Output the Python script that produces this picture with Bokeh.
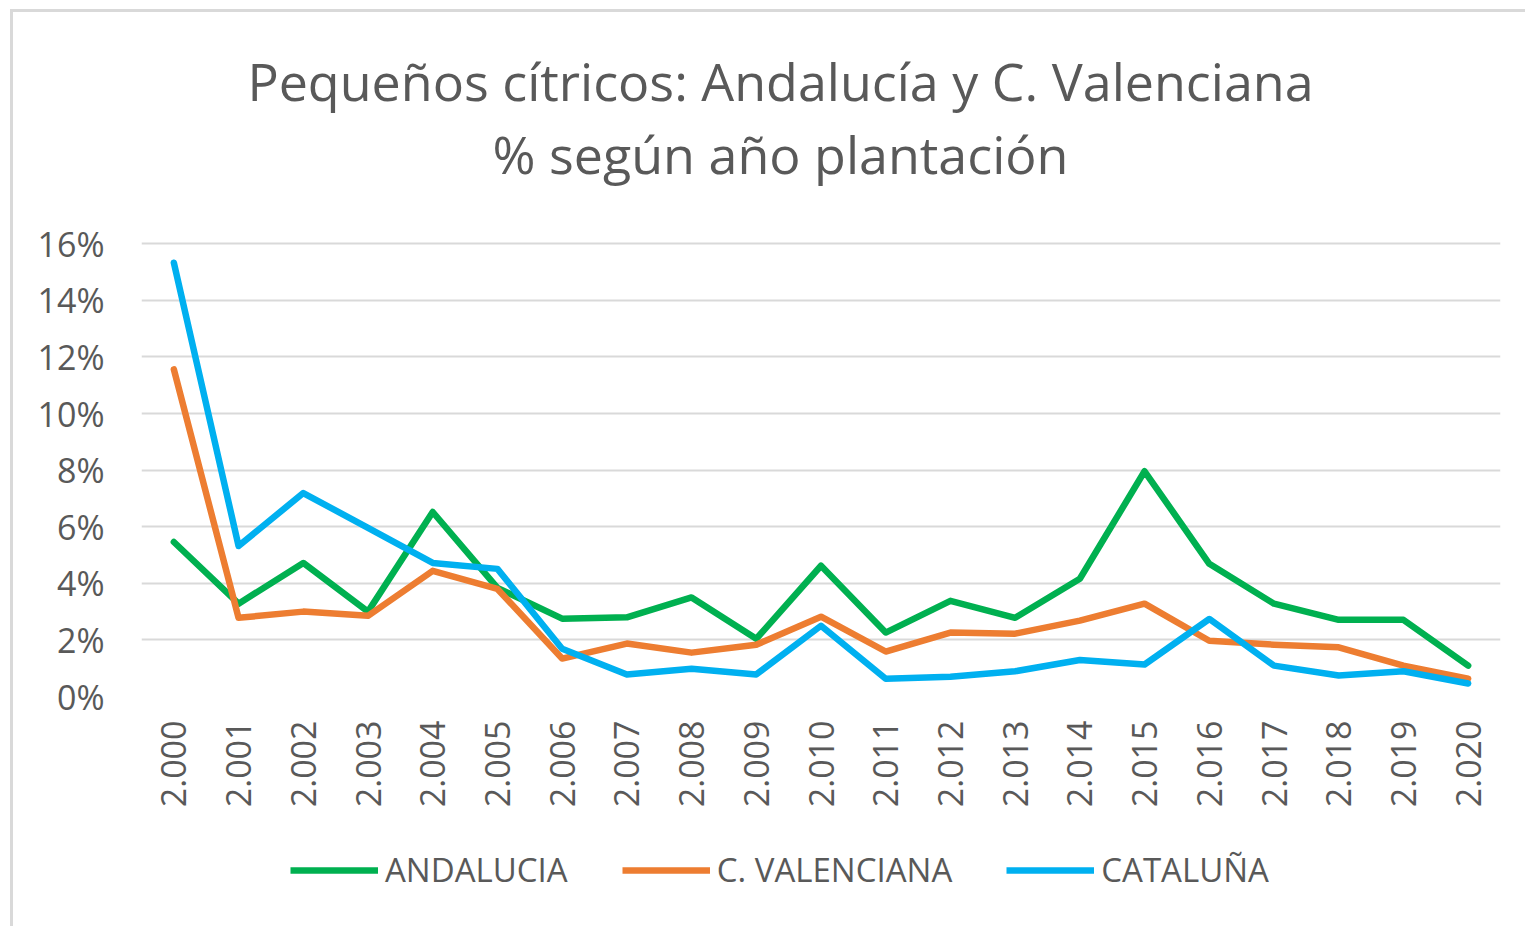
from bokeh.plotting import figure
from bokeh.layouts import column
from bokeh.models import (FactorRange, Range1d, FixedTicker, PrintfTickFormatter,
                          Legend, LegendItem, Title)
from bokeh.embed import file_html
from bokeh.resources import INLINE

years = ["2.000", "2.001", "2.002", "2.003", "2.004", "2.005", "2.006", "2.007",
         "2.008", "2.009", "2.010", "2.011", "2.012", "2.013", "2.014", "2.015",
         "2.016", "2.017", "2.018", "2.019", "2.020"]
andalucia = [5.46, 3.28, 4.72, 3.0, 6.52, 3.84, 2.75, 2.8, 3.5, 2.04, 4.62,
             2.26, 3.38, 2.78, 4.16, 7.96, 4.69, 3.28, 2.71, 2.71, 1.09]
valenciana = [11.56, 2.78, 3.0, 2.85, 4.44, 3.8, 1.34, 1.87, 1.55, 1.83, 2.82,
              1.59, 2.26, 2.22, 2.68, 3.28, 1.97, 1.83, 1.74, 1.09, 0.63]
cataluna = [15.33, 5.32, 7.19, 5.96, 4.72, 4.51, 1.69, 0.78, 0.98, 0.78, 2.5,
            0.63, 0.7, 0.89, 1.29, 1.13, 2.74, 1.09, 0.74, 0.89, 0.46]
y_ticks = [0, 2, 4, 6, 8, 10, 12, 14, 16]
title_lines = ["Pequeños cítricos: Andalucía y C. Valenciana", "% según año plantación"]
series_names = ["ANDALUCIA", "C. VALENCIANA", "CATALUÑA"]
colors = ["#00B050", "#ED7D31", "#00B0F0"]

FONT = "Open Sans"
GREY = "#595959"
NB = "\u00a0"

p = figure(width=1512, height=808, x_range=FactorRange(*years), y_range=Range1d(0, 16.08),
           output_backend="svg", toolbar_location=None,
           min_border_left=128, min_border_right=25, min_border_top=229, min_border_bottom=124)
p.outline_line_color = None
p.background_fill_color = "white"
p.border_fill_color = "white"

p.xgrid.grid_line_color = None
p.ygrid.grid_line_color = "#d9d9d9"
p.ygrid.grid_line_width = 2

p.yaxis.ticker = FixedTicker(ticks=y_ticks)
p.yaxis.formatter = PrintfTickFormatter(format="%d%%")
for ax in (p.xaxis[0], p.yaxis[0]):
    ax.axis_line_color = None
    ax.major_tick_line_color = None
    ax.minor_tick_line_color = None
    ax.major_label_text_font = FONT
    ax.major_label_text_font_size = "34px"
    ax.major_label_text_color = GREY
p.yaxis.major_label_standoff = 31
p.xaxis.major_label_orientation = 3.14159265 / 2
p.xaxis.major_label_standoff = 18
p.x_range.range_padding = 0
p.x_range.group_padding = 0

series = [andalucia, valenciana, cataluna]
for vals, c in zip(series, colors):
    p.line(years, vals, line_width=6.5, color=c, line_join="round", line_cap="round")

# titles: spacer closest to the frame, then second line, then first line
spacer = Title(text=NB, text_font=FONT, text_font_size="20px", standoff=24)
t2 = Title(text=title_lines[1] + NB * 6, align="center", standoff=0,
           text_font=FONT, text_font_size="52px", text_color=GREY, text_font_style="normal")
t1 = Title(text=title_lines[0] + NB * 6, align="center", standoff=0,
           text_font=FONT, text_font_size="52px", text_color=GREY, text_font_style="normal")
p.add_layout(spacer, "above")
p.add_layout(t2, "above")
p.add_layout(t1, "above")

# legend strip below the chart (series drawn out of view, only the legend shows)
q = figure(width=1512, height=106, x_range=FactorRange(*years), y_range=Range1d(-101, -100),
           output_backend="svg", toolbar_location=None,
           min_border=0, min_border_left=0, min_border_right=0,
           min_border_top=0, min_border_bottom=0)
q.axis.visible = False
q.grid.visible = False
q.outline_line_color = None
q.background_fill_color = "white"
q.border_fill_color = "white"
rs = [q.line(years, vals, line_width=6.5, color=c) for vals, c in zip(series, colors)]
legend = Legend(items=[LegendItem(label=n, renderers=[r]) for n, r in zip(series_names, rs)],
                orientation="horizontal", location=(149, 34),
                glyph_width=88, glyph_height=40, label_height=40, label_standoff=7, spacing=54,
                padding=0, margin=0, border_line_color=None, background_fill_alpha=0,
                label_text_font=FONT, label_text_font_size="33px", label_text_color=GREY)
q.add_layout(legend, "center")

layout = column(p, q, spacing=0,
                styles={"margin-left": "10px", "margin-top": "9px",
                        "border-top": "3px solid #d9d9d9", "border-left": "3px solid #d9d9d9"})

open("out.html", "w").write(file_html(layout, INLINE))
